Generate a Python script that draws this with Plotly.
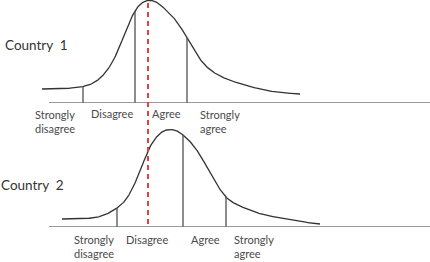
import numpy as np
import plotly.graph_objects as go

W, H = 430, 262

# ---- data (attitude scale position, curve height) ----
c1_x = [42, 65, 83, 95, 105, 115, 125, 135, 142, 148, 156, 166, 177, 187, 197, 207, 220, 238, 260, 280, 300]
c1_y = [14, 14.5, 16.5, 21, 30, 46, 70, 92, 100, 102.5, 101, 93, 81, 65, 48, 36, 27, 20, 14, 10.5, 9]
c1_cuts = [83, 135, 187]

c2_x = [62, 85, 100, 117, 127, 135, 142, 148, 155, 162, 170, 177, 183, 193, 203, 213, 226, 240, 255, 280, 300, 320]
c2_y = [8, 8.5, 10.5, 19, 29, 44, 61, 76, 88, 95, 97.5, 96, 92, 82, 67, 49, 30, 21, 15, 9, 5.5, 3]
c2_cuts = [117, 183, 226]

midpoint = 148
countries = ["Country  1", "Country  2"]
categories = ["Strongly<br>disagree", "Disagree", "Agree", "Strongly<br>agree"]


def natural_spline(x, y, xs):
    """Natural cubic spline through the read points."""
    x = np.asarray(x, float)
    y = np.asarray(y, float)
    n = len(x)
    h = np.diff(x)
    A = np.zeros((n, n))
    b = np.zeros(n)
    A[0, 0] = A[-1, -1] = 1.0
    for i in range(1, n - 1):
        A[i, i - 1] = h[i - 1]
        A[i, i] = 2 * (h[i - 1] + h[i])
        A[i, i + 1] = h[i]
        b[i] = 6 * ((y[i + 1] - y[i]) / h[i] - (y[i] - y[i - 1]) / h[i - 1])
    M = np.linalg.solve(A, b)
    xs = np.asarray(xs, float)
    k = np.clip(np.searchsorted(x, xs) - 1, 0, n - 2)
    t0 = x[k + 1] - xs
    t1 = xs - x[k]
    hk = h[k]
    return (M[k] * t0**3 / (6 * hk) + M[k + 1] * t1**3 / (6 * hk)
            + (y[k] / hk - M[k] * hk / 6) * t0 + (y[k + 1] / hk - M[k + 1] * hk / 6) * t1)


# ---- layout helpers (pixel -> paper) ----
def px(x):
    return x / W


def py(y):
    return 1 - y / H


curve_col = "#333333"
cut_col = "#505050"
base_col = "#777777"
font_fam = "Lato, 'Open Sans', sans-serif"

fig = go.Figure()

panels = [
    dict(x=c1_x, y=c1_y, cuts=c1_cuts, yaxis="y",
         label_left=[33, 89, 150, 198], label_y=114, title_y=45, title_x=3),
    dict(x=c2_x, y=c2_y, cuts=c2_cuts, yaxis="y2",
         label_left=[72, 124, 189, 232], label_y=239, title_y=185, title_x=-1),
]

annotations = []
for i, p in enumerate(panels):
    xs = np.linspace(p["x"][0], p["x"][-1], 500)
    ys = natural_spline(p["x"], p["y"], xs)
    fig.add_trace(go.Scatter(x=xs, y=ys, mode="lines", yaxis=p["yaxis"],
                             line=dict(color=curve_col, width=1.3),
                             hoverinfo="skip", showlegend=False))
    heights = natural_spline(p["x"], p["y"], p["cuts"])
    for cx, ch in zip(p["cuts"], heights):
        fig.add_trace(go.Scatter(x=[cx, cx], y=[0, ch], mode="lines", yaxis=p["yaxis"],
                                 line=dict(color=cut_col, width=1.3),
                                 hoverinfo="skip", showlegend=False))
    fig.add_trace(go.Scatter(x=[49, W], y=[0, 0], mode="lines", yaxis=p["yaxis"],
                             line=dict(color=base_col, width=1.6),
                             hoverinfo="skip", showlegend=False, cliponaxis=False))
    for lab, lx in zip(categories, p["label_left"]):
        two = "<br>" in lab
        annotations.append(dict(
            x=px(lx), y=py(p["label_y"] + (7 if two else 0)), xref="paper", yref="paper",
            text=lab, showarrow=False, xanchor="left", yanchor="middle", align="left",
            font=dict(family=font_fam, size=11, color="#4a4a4a")))
    annotations.append(dict(
        x=px(p["title_x"]), y=py(p["title_y"]), xref="paper", yref="paper",
        text=countries[i], showarrow=False, xanchor="left", yanchor="middle",
        font=dict(family=font_fam, size=13.5, color="#333333")))

shapes = [dict(type="line", xref="x", yref="paper", x0=midpoint, x1=midpoint,
               y0=py(3), y1=py(226), line=dict(color="#e8403f", width=2, dash="5px,4px"))]

fig.update_layout(
    width=W, height=H, margin=dict(l=0, r=0, t=0, b=0),
    paper_bgcolor="white", plot_bgcolor="white",
    xaxis=dict(range=[0, W], domain=[0, 1], visible=False, fixedrange=True),
    yaxis=dict(range=[0, 103], domain=[py(103), py(0)], visible=False, fixedrange=True),
    yaxis2=dict(range=[0, 103], domain=[py(227), py(124)], visible=False, fixedrange=True),
    annotations=annotations, shapes=shapes,
)

fig.write_html("out.html", config={"displayModeBar": False})
